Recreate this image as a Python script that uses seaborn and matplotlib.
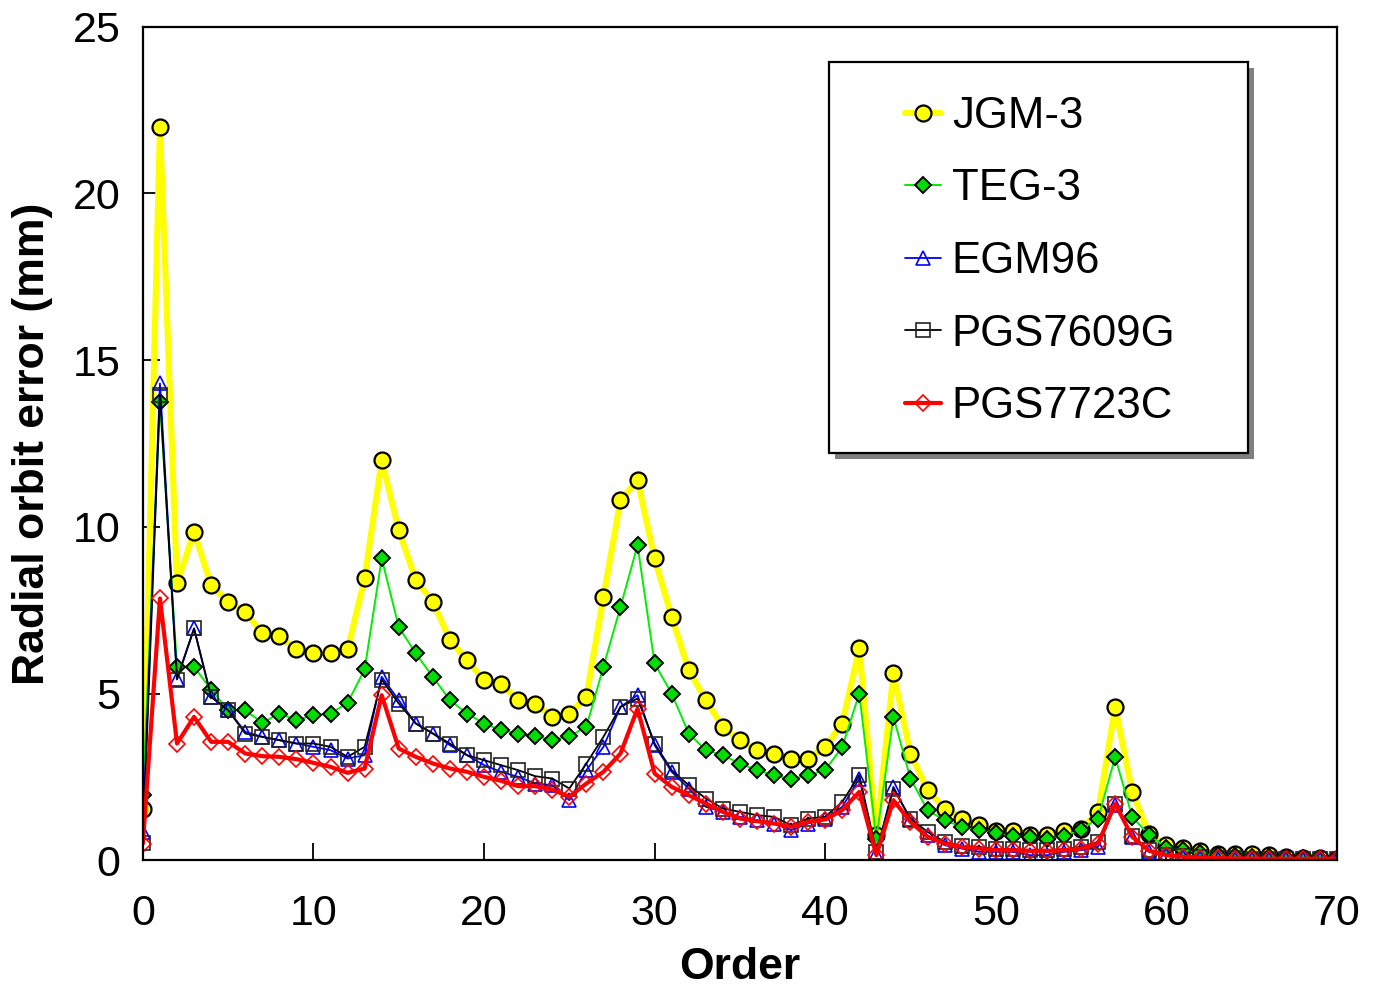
import matplotlib
matplotlib.use("Agg")
import matplotlib.pyplot as plt
from matplotlib.patches import Rectangle
import numpy as np
import pandas as pd
import seaborn as sns

# Harmonic order
order = list(range(71))

# Radial orbit error (mm) per order for each gravity model
jgm3 = [1.55, 22.0, 8.3, 9.85, 8.25, 7.75, 7.45, 6.8, 6.72, 6.32,
        6.2, 6.2, 6.32, 8.45, 12.0, 9.9, 8.4, 7.75, 6.6, 6.0,
        5.4, 5.3, 4.8, 4.7, 4.3, 4.4, 4.9, 7.9, 10.8, 11.4,
        9.05, 7.3, 5.7, 4.8, 4.0, 3.6, 3.3, 3.2, 3.05, 3.05,
        3.4, 4.1, 6.35, 0.75, 5.6, 3.2, 2.1, 1.55, 1.25, 1.05,
        0.87, 0.87, 0.75, 0.75, 0.88, 0.95, 1.45, 4.6, 2.05, 0.78,
        0.45, 0.36, 0.27, 0.2, 0.18, 0.18, 0.17, 0.1, 0.08, 0.06, 0.05]
teg3 = [1.95, 13.75, 5.8, 5.8, 5.12, 4.5, 4.5, 4.12, 4.4, 4.2,
        4.35, 4.4, 4.72, 5.72, 9.05, 7.0, 6.2, 5.5, 4.8, 4.4,
        4.1, 3.9, 3.8, 3.72, 3.6, 3.72, 4.0, 5.8, 7.6, 9.45,
        5.9, 5.0, 3.8, 3.3, 3.15, 2.9, 2.7, 2.55, 2.43, 2.55,
        2.7, 3.4, 5.0, 0.65, 4.3, 2.45, 1.5, 1.2, 1.0, 0.92,
        0.83, 0.72, 0.7, 0.65, 0.72, 0.92, 1.25, 3.1, 1.3, 0.75,
        0.38, 0.3, 0.22, 0.15, 0.12, 0.1, 0.1, 0.08, 0.06, 0.05, 0.05]
egm96 = [0.85, 14.3, 5.45, 6.95, 4.9, 4.5, 3.85, 3.7, 3.6, 3.5,
         3.4, 3.3, 3.05, 3.15, 5.5, 4.8, 4.1, 3.8, 3.45, 3.15,
         2.85, 2.65, 2.5, 2.3, 2.25, 1.8, 2.7, 3.4, 4.6, 4.95,
         3.45, 2.65, 2.15, 1.6, 1.45, 1.3, 1.2, 1.1, 0.9, 1.1,
         1.25, 1.6, 2.45, 0.2, 2.2, 1.2, 0.75, 0.45, 0.35, 0.25,
         0.25, 0.25, 0.15, 0.15, 0.25, 0.3, 0.4, 1.65, 0.7, 0.25,
         0.15, 0.1, 0.08, 0.05, 0.04, 0.03, 0.03, 0.03, 0.03, 0.03, 0.03]
pgs7609g = [0.52, 13.95, 5.42, 6.95, 4.9, 4.5, 3.8, 3.7, 3.6, 3.5,
            3.5, 3.4, 3.1, 3.4, 5.42, 4.7, 4.1, 3.8, 3.5, 3.15,
            3.0, 2.85, 2.7, 2.52, 2.45, 2.15, 2.9, 3.7, 4.6, 4.85,
            3.5, 2.7, 2.25, 1.85, 1.55, 1.45, 1.35, 1.3, 1.05, 1.25,
            1.3, 1.75, 2.55, 0.25, 2.15, 1.25, 0.85, 0.55, 0.42, 0.4,
            0.33, 0.33, 0.3, 0.3, 0.33, 0.4, 0.55, 1.7, 0.72, 0.3,
            0.15, 0.12, 0.1, 0.08, 0.06, 0.05, 0.05, 0.04, 0.04, 0.04, 0.04]
pgs7723c = [0.5, 7.85, 3.5, 4.3, 3.55, 3.55, 3.2, 3.12, 3.1, 3.03,
            2.92, 2.8, 2.62, 2.75, 4.95, 3.35, 3.1, 2.9, 2.75, 2.65,
            2.5, 2.38, 2.22, 2.22, 2.12, 1.9, 2.3, 2.65, 3.2, 4.55,
            2.6, 2.2, 1.95, 1.7, 1.45, 1.25, 1.17, 1.1, 1.0, 1.15,
            1.22, 1.5, 2.05, 0.15, 1.8, 1.15, 0.7, 0.5, 0.4, 0.35,
            0.3, 0.3, 0.28, 0.28, 0.3, 0.35, 0.5, 1.7, 0.7, 0.28,
            0.15, 0.1, 0.08, 0.06, 0.05, 0.05, 0.04, 0.04, 0.04, 0.04, 0.04]

x_ticks = [0, 10, 20, 30, 40, 50, 60, 70]
y_ticks = [0, 5, 10, 15, 20, 25]

df = pd.DataFrame({"Order": order, "JGM-3": jgm3, "TEG-3": teg3,
                   "EGM96": egm96, "PGS7609G": pgs7609g,
                   "PGS7723C": pgs7723c})

sns.set_style("ticks")
plt.rcParams["font.family"] = ["Liberation Sans", "DejaVu Sans"]
plt.rcParams["text.color"] = "black"
plt.rcParams["axes.labelcolor"] = "black"

fig = plt.figure(figsize=(13.74, 9.91), dpi=100)
ax = fig.add_axes([0.104, 0.132, 0.869, 0.841])

styles = {
    "JGM-3": dict(color="#FFFF00", linewidth=4.4, marker="o", markersize=11.5,
                  markerfacecolor="#FFFF00", markeredgecolor="black",
                  markeredgewidth=1.6),
    "TEG-3": dict(color="#00EE00", linewidth=1.4, marker="D", markersize=8.5,
                  markerfacecolor="#00DD00", markeredgecolor="black",
                  markeredgewidth=1.4),
    "EGM96": dict(color="#0000FF", linewidth=1.3, marker="^", markersize=10,
                  markerfacecolor="none", markeredgecolor="#0000FF",
                  markeredgewidth=1.2),
    "PGS7609G": dict(color="black", linewidth=1.3, marker="s", markersize=10,
                     markerfacecolor="none", markeredgecolor="#222222",
                     markeredgewidth=1.2),
    "PGS7723C": dict(color="#FF0000", linewidth=3.0, marker="D", markersize=8.5,
                     markerfacecolor="none", markeredgecolor="#FF0000",
                     markeredgewidth=1.2),
}

for name, kw in styles.items():
    sns.lineplot(data=df, x="Order", y=name, ax=ax, label=name, **kw)

ax.set_xlim(0, 70)
ax.set_ylim(0, 25)
ax.set_xticks(x_ticks)
ax.set_yticks(y_ticks)
ax.tick_params(direction="in", length=12, width=1.3, labelsize=31,
               colors="black")
ax.tick_params(axis="x", pad=24)
ax.tick_params(axis="y", pad=16)
for sp in ax.spines.values():
    sp.set_visible(True)
    sp.set_linewidth(1.6)
    sp.set_color("black")

ax.set_xlabel("Order", fontsize=32, fontweight="bold", labelpad=10)
ax.set_ylabel("Radial orbit error (mm)", fontsize=32, fontweight="bold",
              labelpad=14)

# Legend box with drop shadow
x0, y0 = 829 / 1374, 1 - 453 / 991
w, h = (1248 - 829) / 1374, (453 - 62) / 991
shadow = Rectangle((x0 + 6 / 1374, y0 - 6 / 991), w, h, transform=fig.transFigure,
                   facecolor="#808080", edgecolor="none", zorder=5)
box = Rectangle((x0, y0), w, h, transform=fig.transFigure,
                facecolor="white", edgecolor="black", linewidth=1.6, zorder=6)
fig.patches.extend([shadow, box])

leg = ax.legend(loc="upper left", bbox_to_anchor=(905 / 1374, 1 - 96 / 991),
                bbox_transform=fig.transFigure, frameon=False, fontsize=31.5,
                handlelength=0.82, handletextpad=0.25, labelspacing=0.72,
                borderpad=0, borderaxespad=0)
leg.set_zorder(7)
leg.remove()
fig.add_artist(leg)

fig.savefig("out.png", dpi=100)
